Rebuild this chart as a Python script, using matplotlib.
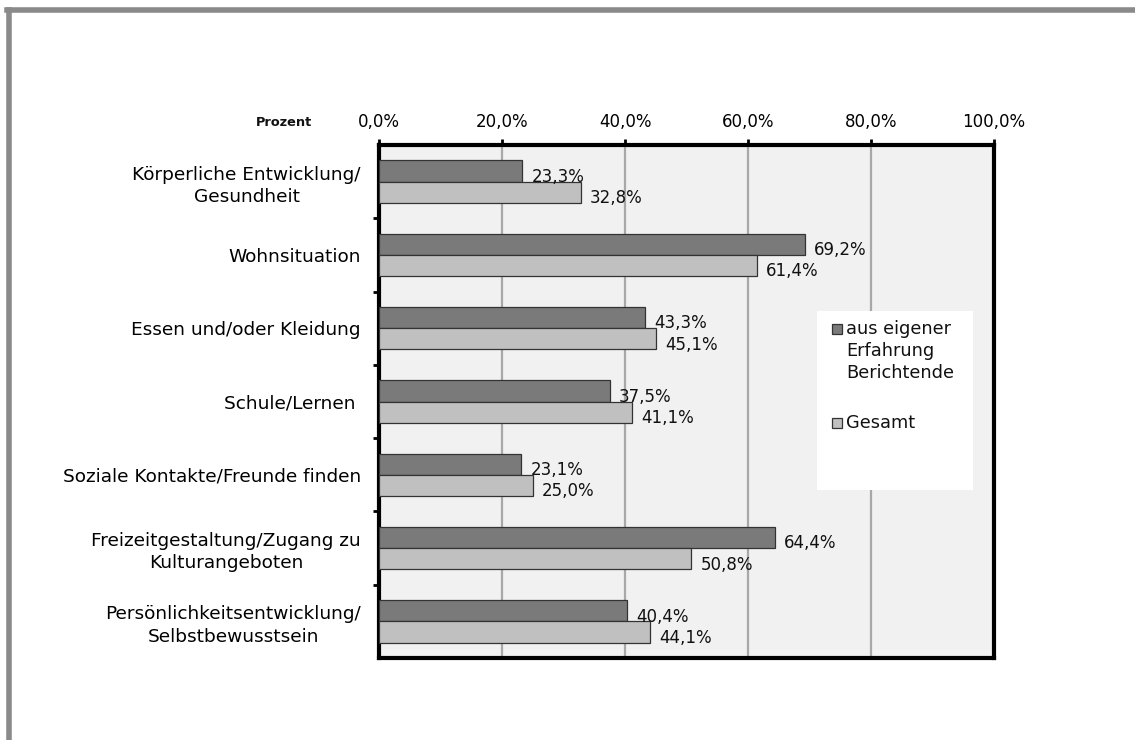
import matplotlib
matplotlib.use("Agg")
import matplotlib.pyplot as plt
from matplotlib.patches import Rectangle
import numpy as np

plt.rcParams['font.family'] = ['DejaVu Sans']

categories = [
    "Körperliche Entwicklung/\nGesundheit",
    "Wohnsituation",
    "Essen und/oder Kleidung",
    "Schule/Lernen ",
    "Soziale Kontakte/Freunde finden",
    "Freizeitgestaltung/Zugang zu\nKulturangeboten",
    "Persönlichkeitsentwicklung/\nSelbstbewusstsein",
]
eigene = [23.3, 69.2, 43.3, 37.5, 23.1, 64.4, 40.4]
gesamt = [32.8, 61.4, 45.1, 41.1, 25.0, 50.8, 44.1]
series_names = ["aus eigener\nErfahrung\nBerichtende", "Gesamt"]
x_ticks = [0, 20, 40, 60, 80, 100]

dark = "#7a7a7a"
light = "#c0c0c0"

fig = plt.figure(figsize=(11.35, 7.4), dpi=100)
fig.patch.set_facecolor("white")

# page frame lines (top and left)
fig.add_artist(plt.Line2D([0.006, 1.0], [0.986, 0.986], color="#8a8a8a", lw=4,
                          transform=fig.transFigure))
fig.add_artist(plt.Line2D([0.008, 0.008], [0.0, 0.986], color="#8a8a8a", lw=4,
                          transform=fig.transFigure))

ax = fig.add_axes([379 / 1135, 1 - 658 / 740, (994 - 379) / 1135, (658 - 145) / 740])
ax.set_facecolor("#f1f1f1")

n = len(categories)
y = np.arange(n)
h = 0.29
ax.barh(y - h / 2, eigene, height=h, color=dark, edgecolor="#333333", lw=0.9, zorder=3,
        label=series_names[0])
ax.barh(y + h / 2, gesamt, height=h, color=light, edgecolor="#333333", lw=0.9, zorder=3,
        label=series_names[1])

def fmt(v):
    return f"{v:.1f}%".replace(".", ",")

for yi, v in zip(y, eigene):
    ax.text(v + 1.5, yi - h / 2 + 0.08, fmt(v), va="center", ha="left",
            fontsize=12, color="#111111", zorder=4)
for yi, v in zip(y, gesamt):
    ax.text(v + 1.5, yi + h / 2 + 0.08, fmt(v), va="center", ha="left",
            fontsize=12, color="#111111", zorder=4)

ax.set_xlim(0, 100)
ax.set_ylim(n - 0.5, -0.5)
ax.xaxis.tick_top()
ax.set_xticks(x_ticks)
ax.set_xticklabels([fmt(t) for t in x_ticks], fontsize=12)
ax.tick_params(axis="x", direction="out", length=4, width=2, pad=6)
ax.grid(axis="x", color="#a8a8a8", lw=1.6, zorder=1)

ax.set_yticks(y)
ax.set_yticklabels(categories, fontsize=13.3)
for t in ax.get_yticklabels():
    t.set_multialignment("center")
    t.set_linespacing(1.3)
ax.tick_params(axis="y", which="major", length=0, pad=13)
ax.set_yticks(np.arange(0.5, n - 0.5, 1), minor=True)
ax.tick_params(axis="y", which="minor", direction="out", length=4, width=2)

for s in ax.spines.values():
    s.set_linewidth(3)
    s.set_color("black")

# legend box
lx0, ly0 = 817 / 1135, 1 - 490 / 740
legbox = Rectangle((lx0, ly0), (973 - 817) / 1135, (490 - 311) / 740,
                   transform=fig.transFigure, facecolor="white", edgecolor="none", zorder=5)
fig.add_artist(legbox)
entries = [(dark, series_names[0], 329), (light, series_names[1], 423)]
for col, name, ypx in entries:
    sq = Rectangle((832 / 1135, 1 - (ypx + 5) / 740), 10 / 1135, 10 / 740,
                   transform=fig.transFigure, facecolor=col, edgecolor="#333333",
                   lw=0.9, zorder=6)
    fig.add_artist(sq)
    fig.text(846 / 1135, 1 - (ypx - 9) / 740, name, ha="left", va="top",
             fontsize=12.8, color="#111111", zorder=6, linespacing=1.3)

fig.text(312 / 1135, 1 - 122 / 740, "Prozent", ha="right", va="center",
         fontsize=9.3, fontweight="bold", color="#111111")

fig.savefig("out.png", dpi=100)
